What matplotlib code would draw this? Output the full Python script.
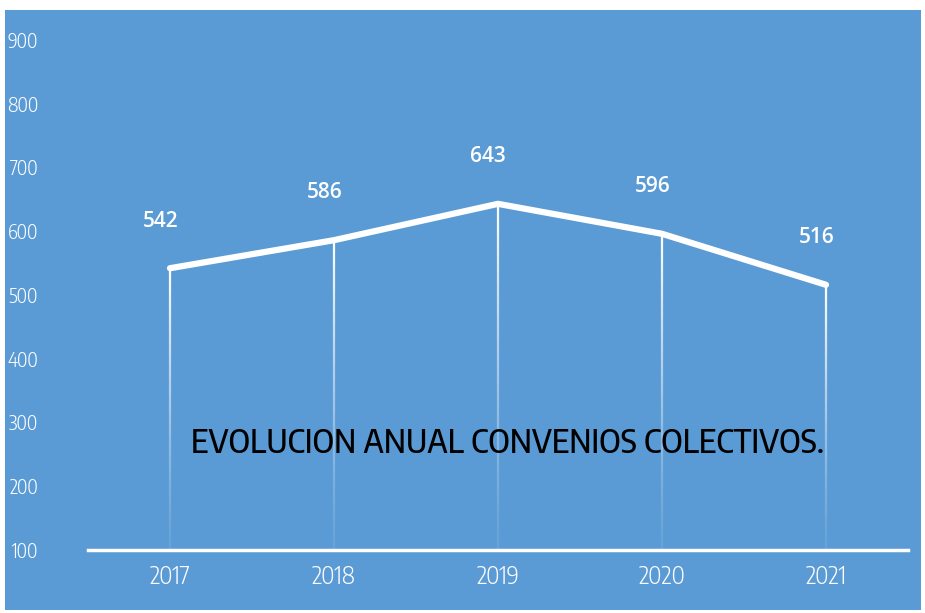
import matplotlib
matplotlib.use("Agg")
import matplotlib.pyplot as plt
from matplotlib.patches import Rectangle
from matplotlib.collections import LineCollection
import numpy as np

years = ["2017", "2018", "2019", "2020", "2021"]
convenios = [542, 586, 643, 596, 516]
yticks = [100, 200, 300, 400, 500, 600, 700, 800, 900]
title = "EVOLUCION ANUAL CONVENIOS COLECTIVOS."

COND = ["Encode Sans Condensed", "DejaVu Sans"]
SEMI = ["Encode Sans Semi Condensed", "DejaVu Sans"]
BLUE = "#5B9BD5"
W, H = 925, 613
fig = plt.figure(figsize=(W / 100, H / 100), dpi=100, facecolor="white")
fig.patches.append(Rectangle((5 / W, 3 / H), 916 / W, 600 / H, transform=fig.transFigure,
                             facecolor=BLUE, edgecolor="none", zorder=-10))

ax = fig.add_axes([88 / W, (H - 550) / H, (908 - 88) / W, (550 - 40) / H])
ax.set_zorder(5)
ax.set_facecolor("none")
x = np.arange(len(years))
ax.set_xlim(-0.5, len(years) - 0.5)
ax.set_ylim(100, 900)

# fading drop lines
ymin = 100
for xi, v in zip(x, convenios):
    n = 60
    ys = np.linspace(ymin, v, n + 1)
    segs = [[(xi, ys[i]), (xi, ys[i + 1])] for i in range(n)]
    alphas = 0.08 + 0.92 * (np.arange(n) / (n - 1)) ** 1.3
    cols = [(1, 1, 1, a) for a in alphas]
    ax.add_collection(LineCollection(segs, colors=cols, linewidths=1.6, zorder=2))

ax.plot(x, convenios, color="white", lw=4.5, solid_capstyle="round", zorder=3)

for xi, v in zip(x, convenios):
    ax.annotate(str(v), (xi, v), xytext=(-7, 34), textcoords="offset points",
                ha="center", va="center", color="white", fontsize=15,
                fontfamily="Open Sans", fontweight="semibold", zorder=4)

ax.text(0.512, 0.208, title, transform=ax.transAxes, ha="center", va="center",
        fontsize=22.8, color="black", fontfamily=SEMI, fontweight=500,
        zorder=5)

ax.set_xticks(x)
ax.set_xticklabels(years, fontfamily=SEMI, fontweight=300, fontsize=16.5, color="white")
ax.set_yticks(yticks)
ax.set_yticklabels([str(t) for t in yticks], fontfamily=COND, fontweight=300,
                   fontsize=14, color="white")
ax.tick_params(axis="both", length=0)
ax.tick_params(axis="x", pad=11)
ax.tick_params(axis="y", pad=36)

for s in ["top", "left", "right"]:
    ax.spines[s].set_visible(False)
ax.spines["bottom"].set_color("white")
ax.spines["bottom"].set_linewidth(2.5)
ax.spines["bottom"].set_zorder(6)

fig.savefig("out.png", dpi=100, facecolor="white")
